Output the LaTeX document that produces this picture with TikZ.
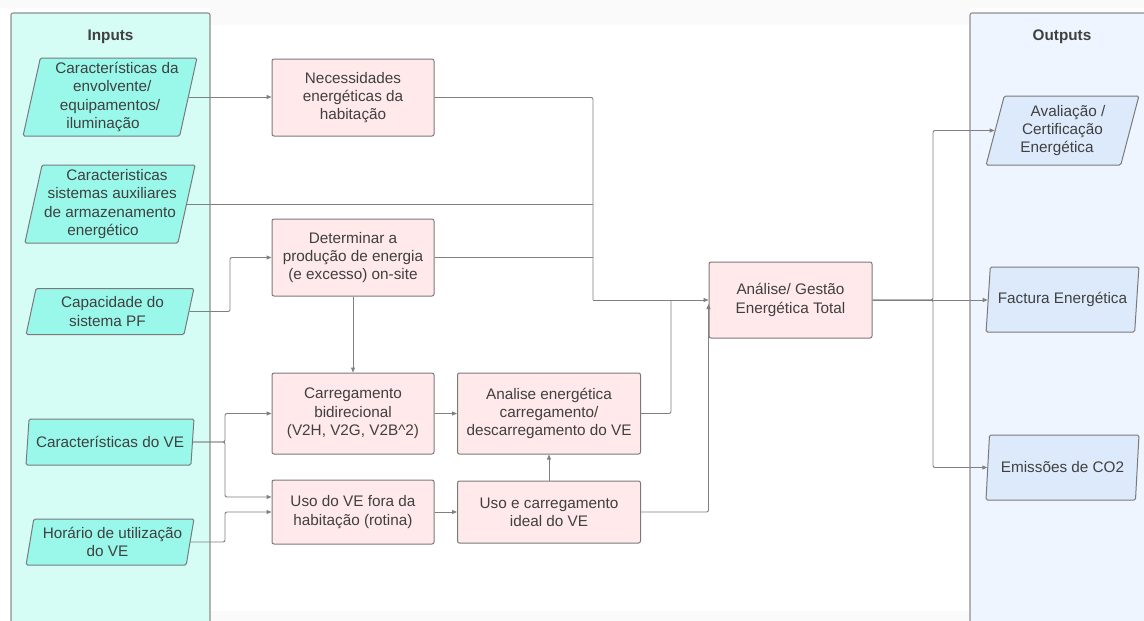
\documentclass[tikz,border=0pt]{standalone}
\usepackage{fontspec}
\setmainfont{Liberation Sans}
\usetikzlibrary{shapes.geometric,arrows.meta,calc}
\definecolor{inpanel}{HTML}{D6FCF6}
\definecolor{infill}{HTML}{99F8EA}
\definecolor{pinkfill}{HTML}{FFE9EA}
\definecolor{outpanel}{HTML}{EFF5FE}
\definecolor{outfill}{HTML}{DDEAFC}
\definecolor{edge}{HTML}{7A7A7A}
\definecolor{txt}{HTML}{404040}
\definecolor{wire}{HTML}{808080}
\definecolor{band}{HTML}{FAFAFA}
\newcommand\shr[2]{\hspace*{#1}#2}
\newcommand\shl[2]{#2\hspace*{#1}}
\begin{document}
\begin{tikzpicture}[x=1pt,y=-1pt,
  every node/.style={font=\fontsize{15.3}{18.3}\selectfont, text=txt},
  panel/.style={draw=edge!85, line width=1.1pt, rounded corners=2pt},
  title/.style={font=\fontsize{15.3}{18.3}\selectfont\bfseries},
  inpara/.style={trapezium, trapezium left angle=76, trapezium right angle=104,
    trapezium stretches=true, draw=edge, line width=1pt, fill=infill,
    minimum width=168pt, inner xsep=1pt, inner ysep=0pt, align=center, rounded corners=1.5pt},
  outpara/.style={trapezium, trapezium left angle=75, trapezium right angle=105,
    trapezium stretches=true, draw=edge, line width=1pt, fill=outfill,
    minimum width=153pt, inner xsep=1pt, inner ysep=0pt, align=center, rounded corners=1.5pt},
  pbox/.style={rectangle, draw=edge, line width=1pt, fill=pinkfill, rounded corners=2pt,
    align=center, inner sep=0pt},
  wire/.style={draw=wire, line width=0.9pt, rounded corners=2pt},
  arr/.style={wire, -{Triangle[length=5pt,width=4pt]}}
]
\useasboundingbox (0,0) rectangle (1144,621);
\clip (0,0) rectangle (1144,621);
% faint screenshot bands
\fill[band] (0,0) rectangle (1144,8);
\fill[band] (210,0) rectangle (970,25);
\fill[band] (210,611) rectangle (970,621);
% panels
\draw[panel, fill=inpanel] (11,13) rectangle (210,640);
\draw[panel, fill=outpanel] (970,13) rectangle (1160,640);
\node[title] (tin) at (110.5,37) {Inputs};
\node[title] (tout) at (1062,37) {Outputs};

% inputs
\node[inpara, minimum height=78pt] (i1) at (110,97)
  {\shr{14pt}{Características da}\\ \shr{4.6pt}{envolvente/}\\ \shl{4.6pt}{equipamentos/}\\ \shl{14pt}{iluminação}};
\node[inpara, minimum height=78pt] (i2) at (110,204)
  {\shr{14pt}{Caracteristicas}\\ \shr{4.6pt}{sistemas auxiliares}\\ \shl{4.6pt}{de armazenamento}\\ \shl{14pt}{energético}};
\node[inpara, minimum height=46pt] (i3) at (110,311.5)
  {\shr{5pt}{Capacidade do}\\ \shl{5pt}{sistema PF}};
\node[inpara, minimum height=46pt] (i4) at (110,442) {Características do VE};
\node[inpara, minimum height=46pt] (i5) at (110,542)
  {\shr{5pt}{Horário de utilização}\\ \shl{5pt}{do VE}};

% process boxes
\node[pbox, minimum width=162pt, minimum height=77pt] (p1) at (353,97.5)
  {Necessidades\\energéticas da\\habitação};
\node[pbox, minimum width=162pt, minimum height=77pt] (p2) at (353,257.5)
  {Determinar a\\produção de energia\\(e excesso) on-site};
\node[pbox, minimum width=162pt, minimum height=81pt] (p3) at (353,413.5)
  {Carregamento\\bidirecional\\(V2H, V2G, V2B\textasciicircum2)};
\node[pbox, minimum width=162pt, minimum height=64pt] (p4) at (353,512)
  {Uso do VE fora da\\habitação (rotina)};
\node[pbox, minimum width=183pt, minimum height=81pt] (p5) at (549,413.5)
  {Analise energética\\carregamento/\\descarregamento do VE};
\node[pbox, minimum width=183pt, minimum height=62pt] (p6) at (549,512)
  {Uso e carregamento\\ideal do VE};
\node[pbox, minimum width=163pt, minimum height=76pt] (p7) at (790.5,300)
  {Análise/ Gestão\\Energética Total};

% outputs
\node[outpara, minimum height=69pt] (o1) at (1062.5,130.5)
  {\shr{11pt}{Avaliação /}\\Certificação\\ \shl{11pt}{Energética}};
\node[outpara, minimum height=65pt] (o2) at (1062.5,299.5) {Factura Energética};
\node[outpara, minimum height=65pt] (o3) at (1062.5,467.5) {Emissões de CO2};

% junction coordinates
\coordinate (ja) at (593,300);
\coordinate (xb) at (230,0);
\coordinate (xc) at (225,0);
\coordinate (jc) at (671,300);
\coordinate (xd) at (933,0);
\coordinate (p4a) at ($(p4.west)+(0,-15)$);
\coordinate (p7b) at ($(p7.west)+(0,4)$);

% connectors
\draw[arr] (i1.east) -- (i1.east -| p1.west);
\draw[wire] (p1.east) -| (ja);
\draw[arr] (ja) -- (p7.west);
\draw[wire] (i2.east) -- (i2.east -| ja);
\draw[wire] (p2.east) -- (p2.east -| ja);
\draw[arr] (i3.east) -| (xb |- p2.west) -- (p2.west);
\draw[arr] (p2.south) -- (p3.north);
\draw[arr] (i4.east) -| (xc |- p3.west) -- (p3.west);
\draw[arr] (i4.east) -| (xc |- p4a) -- (p4a);
\draw[arr] (i5.east) -| (xc |- p4.west) -- (p4.west);
\draw[arr] (p3.east) -- (p5.west);
\draw[arr] (p4.east) -- (p6.west);
\draw[arr] (p6.north) -- (p5.south);
\draw[wire] (p5.east) -| (jc);
\draw[arr] (p6.east) -| (p7b);
\draw[arr] (p7.east) -- (p7.east -| o2.west);
\draw[arr] (p7.east) -| (xd |- o1.west) -- (o1.west);
\draw[arr] (p7.east) -| (xd |- o3.west) -- (o3.west);
\end{tikzpicture}
\end{document}
